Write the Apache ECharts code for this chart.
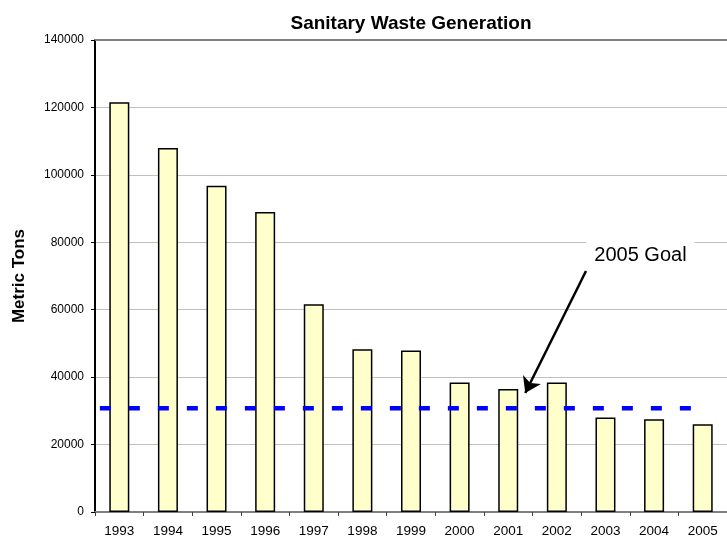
<!DOCTYPE html>
<html>
<head>
<meta charset="utf-8">
<script src="https://cdn.jsdelivr.net/npm/echarts@6/dist/echarts.min.js"></script>
<style>
html,body{margin:0;padding:0;background:#fff;}
#chart{width:727px;height:542px;}
</style>
</head>
<body>
<div id="chart"></div>
<script>
// ---- data ----
const years = ['1993','1994','1995','1996','1997','1998','1999','2000','2001','2002','2003','2004','2005'];
const wasteTons = [121500, 108000, 96800, 89000, 61600, 48300, 47900, 38400, 36500, 38400, 28000, 27500, 26000];
const goalValue = [30800];
const yTicks = [0, 20000, 40000, 60000, 80000, 100000, 120000, 140000];

const FONT = "Arial, 'Liberation Sans', sans-serif";
const chart = echarts.init(document.getElementById('chart'), null, {renderer: 'canvas'});

const option = {
  backgroundColor: '#ffffff',
  animation: false,
  title: {
    text: 'Sanitary Waste Generation',
    left: 406, top: 9, textAlign: 'center',
    textStyle: {fontFamily: FONT, fontSize: 19, fontWeight: 'bold', color: '#000'}
  },
  grid: {left: 95, right: 0, top: 40, bottom: 30, containLabel: false},
  xAxis: [{
    type: 'category',
    data: years,
    boundaryGap: true,
    axisLine: {show: true, lineStyle: {color: '#808080', width: 2}},
    axisTick: {show: true, alignWithLabel: false, length: 4, lineStyle: {color: '#404040', width: 1}},
    axisLabel: {fontFamily: FONT, fontSize: 13.5, color: '#000', margin: 12, interval: 0},
    splitLine: {show: false}
  }, {
    type: 'value',
    position: 'top',
    min: 0, max: years.length,
    axisLine: {show: true, onZero: false, lineStyle: {color: '#808080', width: 2}},
    axisTick: {show: false},
    axisLabel: {show: false},
    splitLine: {show: false}
  }],
  yAxis: [{
    type: 'value',
    min: yTicks[0], max: yTicks[yTicks.length - 1], interval: yTicks[1] - yTicks[0],
    name: 'Metric Tons',
    nameLocation: 'middle',
    nameGap: 67,
    nameTextStyle: {fontFamily: FONT, fontSize: 17, fontWeight: 'bold', color: '#000'},
    axisLine: {show: true, lineStyle: {color: '#000', width: 2}},
    axisTick: {show: true, length: 4, lineStyle: {color: '#000', width: 1}},
    axisLabel: {fontFamily: FONT, fontSize: 12, color: '#000', margin: 11, formatter: function (v) { return String(v); }},
    splitLine: {show: true, lineStyle: {color: '#c0c0c0', width: 1}}
  }],
  series: [{
    type: 'bar',
    data: wasteTons,
    barWidth: 20,
    itemStyle: {color: '#ffffcc', borderColor: '#000', borderWidth: 1.5},
    z: 2
  }, {
    type: 'line',
    xAxisIndex: 1,
    yAxisIndex: 0,
    data: [[0.1, goalValue[0]], [12.55, goalValue[0]]],
    symbol: 'none',
    lineStyle: {color: '#0000ff', width: 4.5, type: [11, 18], cap: 'butt'},
    z: 3,
    markLine: {
      silent: true,
      symbol: ['none', 'arrow'],
      symbolSize: 15,
      label: {show: false},
      lineStyle: {color: '#000', width: 2.5, type: 'solid'},
      data: [[{coord: [10.1, 71500]}, {coord: [8.85, 35300]}]]
    },
    markPoint: {
      silent: true,
      symbol: 'rect',
      symbolSize: 0,
      data: [{coord: [11.22, 76200], value: '2005 Goal'}],
      label: {
        show: true, position: 'inside',
        formatter: '2005 Goal',
        fontFamily: FONT, fontSize: 20, color: '#000',
        backgroundColor: '#ffffff', padding: [4, 8]
      }
    }
  }]
};
chart.setOption(option);
</script>
</body>
</html>
